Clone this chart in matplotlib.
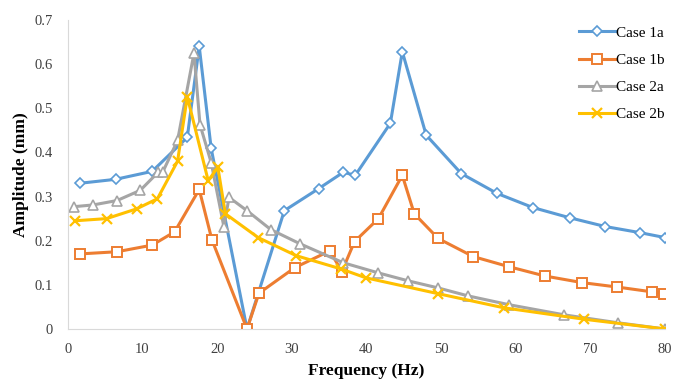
import matplotlib.pyplot as plt

plt.rcParams['font.family'] = ['Liberation Serif', 'DejaVu Serif']

# Case 1a
f_1a = [1.6, 6.4, 11.3, 16.0, 17.6, 19.2, 24.0, 29.0, 33.6, 36.9, 38.5, 43.2, 44.8,
        48.0, 52.7, 57.5, 62.3, 67.2, 72.0, 76.7, 80.0]
a_1a = [0.330, 0.339, 0.357, 0.434, 0.640, 0.409, 0.0, 0.268, 0.318, 0.355, 0.348,
        0.466, 0.628, 0.439, 0.352, 0.307, 0.275, 0.252, 0.232, 0.218, 0.207]

# Case 1b
f_1b = [1.6, 6.6, 11.3, 14.3, 17.6, 19.3, 24.0, 25.6, 30.4, 35.1, 36.7, 38.4, 41.6,
        44.8, 46.4, 49.6, 54.3, 59.1, 63.9, 68.9, 73.6, 78.3, 79.9]
a_1b = [0.170, 0.175, 0.190, 0.220, 0.316, 0.202, 0.0, 0.081, 0.139, 0.177, 0.130,
        0.198, 0.250, 0.348, 0.261, 0.205, 0.164, 0.141, 0.120, 0.105, 0.095, 0.084, 0.080]

# Case 2a
f_2a = [0.8, 3.4, 6.6, 9.7, 12.1, 12.7, 14.7, 16.9, 17.7, 19.2, 20.9, 21.6, 24.0,
        27.2, 31.1, 36.9, 41.6, 45.6, 49.6, 53.6, 59.1, 66.5, 73.7, 80.0]
a_2a = [0.277, 0.281, 0.291, 0.314, 0.355, 0.355, 0.427, 0.625, 0.463, 0.377, 0.232,
        0.298, 0.268, 0.225, 0.193, 0.150, 0.127, 0.109, 0.093, 0.075, 0.055, 0.032,
        0.014, 0.0]

# Case 2b
f_2b = [0.9, 5.2, 9.2, 12.0, 14.7, 16.0, 18.8, 20.1, 21.1, 25.5, 30.6, 36.6, 39.9,
        49.6, 58.4, 69.2, 80.0]
a_2b = [0.245, 0.250, 0.272, 0.295, 0.380, 0.526, 0.336, 0.366, 0.261, 0.207, 0.166,
        0.136, 0.116, 0.080, 0.048, 0.022, 0.0]

fig = plt.figure(figsize=(6.85, 3.83), dpi=100)
ax = fig.add_axes([0.099, 0.141, 0.872, 0.807])

lw = 2.2
ms = 6.5
ax.plot(f_1a, a_1a, color='#5B9BD5', lw=lw, marker='D', ms=ms - 1, mfc='white',
        mec='#5B9BD5', mew=1.2, label='Case 1a')
ax.plot(f_1b, a_1b, color='#ED7D31', lw=lw, marker='s', ms=ms + 1, mfc='white',
        mec='#ED7D31', mew=1.4, label='Case 1b')
ax.plot(f_2a, a_2a, color='#A5A5A5', lw=lw, marker='^', ms=ms, mfc='white',
        mec='#A5A5A5', mew=1.2, label='Case 2a')
ax.plot(f_2b, a_2b, color='#FFC000', lw=lw, marker='x', ms=ms, mfc='white',
        mec='#FFC000', mew=1.6, label='Case 2b')

ax.set_xlim(0, 80)
ax.set_ylim(0, 0.7)
ax.set_xticks(range(0, 81, 10))
ax.set_yticks([0, 0.1, 0.2, 0.3, 0.4, 0.5, 0.6, 0.7])
ax.set_yticklabels(['0', '0.1', '0.2', '0.3', '0.4', '0.5', '0.6', '0.7'])
ax.tick_params(length=0, labelsize=10.5, colors='#404040')
ax.tick_params(axis='y', pad=11)
ax.tick_params(axis='x', pad=10)
for s in ['top', 'right']:
    ax.spines[s].set_visible(False)
for s in ['left', 'bottom']:
    ax.spines[s].set_color('#D9D9D9')

ax.set_xlabel('Frequency (Hz)', fontsize=12.5, fontweight='bold', labelpad=5)
ax.set_ylabel('Amplitude (mm)', fontsize=12.5, fontweight='bold', labelpad=4)

ax.legend(loc='upper right', bbox_to_anchor=(1.01, 1.0), frameon=False, fontsize=11,
          handlelength=2.4, labelspacing=0.88, handletextpad=0.05, borderaxespad=0)

fig.savefig('out.png', dpi=100)
